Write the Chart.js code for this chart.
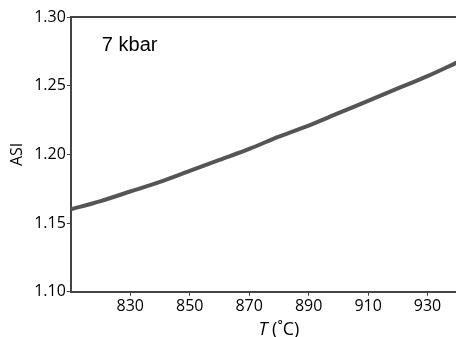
<!DOCTYPE html>
<html>
<head>
<meta charset="utf-8">
<script src="https://cdn.jsdelivr.net/npm/chart.js@4"></script>
<style>
  html, body { margin: 0; padding: 0; background: #fff; overflow: hidden; }
  #wrap { width: 490px; height: 337px; }
</style>
</head>
<body>
<div id="wrap"><canvas id="asiChart"></canvas></div>
<script>
// temperature (°C) and ASI
const temps = [810, 820, 830, 840, 850, 860, 870, 880, 890, 900, 910, 920, 930, 940, 950];
const asi = [1.160, 1.166, 1.173, 1.180, 1.188, 1.196, 1.204, 1.213, 1.221, 1.230, 1.239, 1.248, 1.257, 1.267, 1.277];
const xTicks = [830, 850, 870, 890, 910, 930];
const yTicks = [1.10, 1.15, 1.20, 1.25, 1.30];
const label = '7 kbar';

const axisColor = '#444';
const tickFont = { family: 'Open Sans', size: 16 };

// label in the plot, top border and the x title with italic T
const extras = {
  id: 'extras',
  afterDraw(chart) {
    const { ctx, chartArea } = chart;
    ctx.save();
    ctx.strokeStyle = axisColor;
    ctx.lineWidth = 2;
    ctx.beginPath();
    ctx.moveTo(chartArea.left, chartArea.top);
    ctx.lineTo(chartArea.right, chartArea.top);
    ctx.stroke();

    ctx.fillStyle = '#000';
    ctx.font = '20px "Liberation Sans"';
    ctx.textBaseline = 'alphabetic';
    ctx.textAlign = 'left';
    ctx.fillText(label, chartArea.left + 31, chartArea.top + 34);

    const cx = (chartArea.left + chartArea.right) / 2;
    ctx.font = 'italic 18px "Open Sans"';
    const tW = ctx.measureText('T ').width;
    ctx.font = '18px "Open Sans"';
    const rest = '(\u02DAC)';
    const rW = ctx.measureText(rest).width;
    const x0 = cx - (tW + rW) / 2;
    const y0 = chart.height - 2;
    ctx.font = 'italic 18px "Open Sans"';
    ctx.fillText('T', x0, y0);
    ctx.font = '18px "Open Sans"';
    ctx.fillText(rest, x0 + tW, y0);
    ctx.restore();
  }
};

new Chart(document.getElementById('asiChart'), {
  type: 'line',
  data: {
    labels: temps,
    datasets: [{
      data: asi,
      borderColor: '#555',
      borderWidth: 4,
      pointRadius: 0,
      cubicInterpolationMode: 'monotone',
      fill: false
    }]
  },
  options: {
    responsive: true,
    maintainAspectRatio: false,
    animation: false,
    layout: { padding: { top: 17, bottom: 20, right: 3, left: 8 } },
    plugins: { legend: { display: false }, tooltip: { enabled: false } },
    scales: {
      x: {
        type: 'linear',
        min: 810,
        max: 950,
        afterBuildTicks: (axis) => { axis.ticks = xTicks.map(v => ({ value: v })); },
        grid: { drawOnChartArea: false, drawTicks: true, tickLength: 4, color: axisColor, lineWidth: 1 },
        border: { display: true, color: axisColor, width: 2 },
        ticks: { font: tickFont, color: '#000', padding: 1, maxRotation: 0 }
      },
      y: {
        min: 1.10,
        max: 1.30,
        afterBuildTicks: (axis) => { axis.ticks = yTicks.map(v => ({ value: v })); },
        grid: { drawOnChartArea: false, drawTicks: true, tickLength: 4, color: axisColor, lineWidth: 1 },
        border: { display: true, color: axisColor, width: 2 },
        ticks: { font: tickFont, color: '#000', padding: 1, callback: v => v.toFixed(2) },
        title: { display: true, text: 'ASI', font: tickFont, color: '#000', padding: { top: 0, bottom: 6 } }
      }
    }
  },
  plugins: [extras]
});
</script>
</body>
</html>
